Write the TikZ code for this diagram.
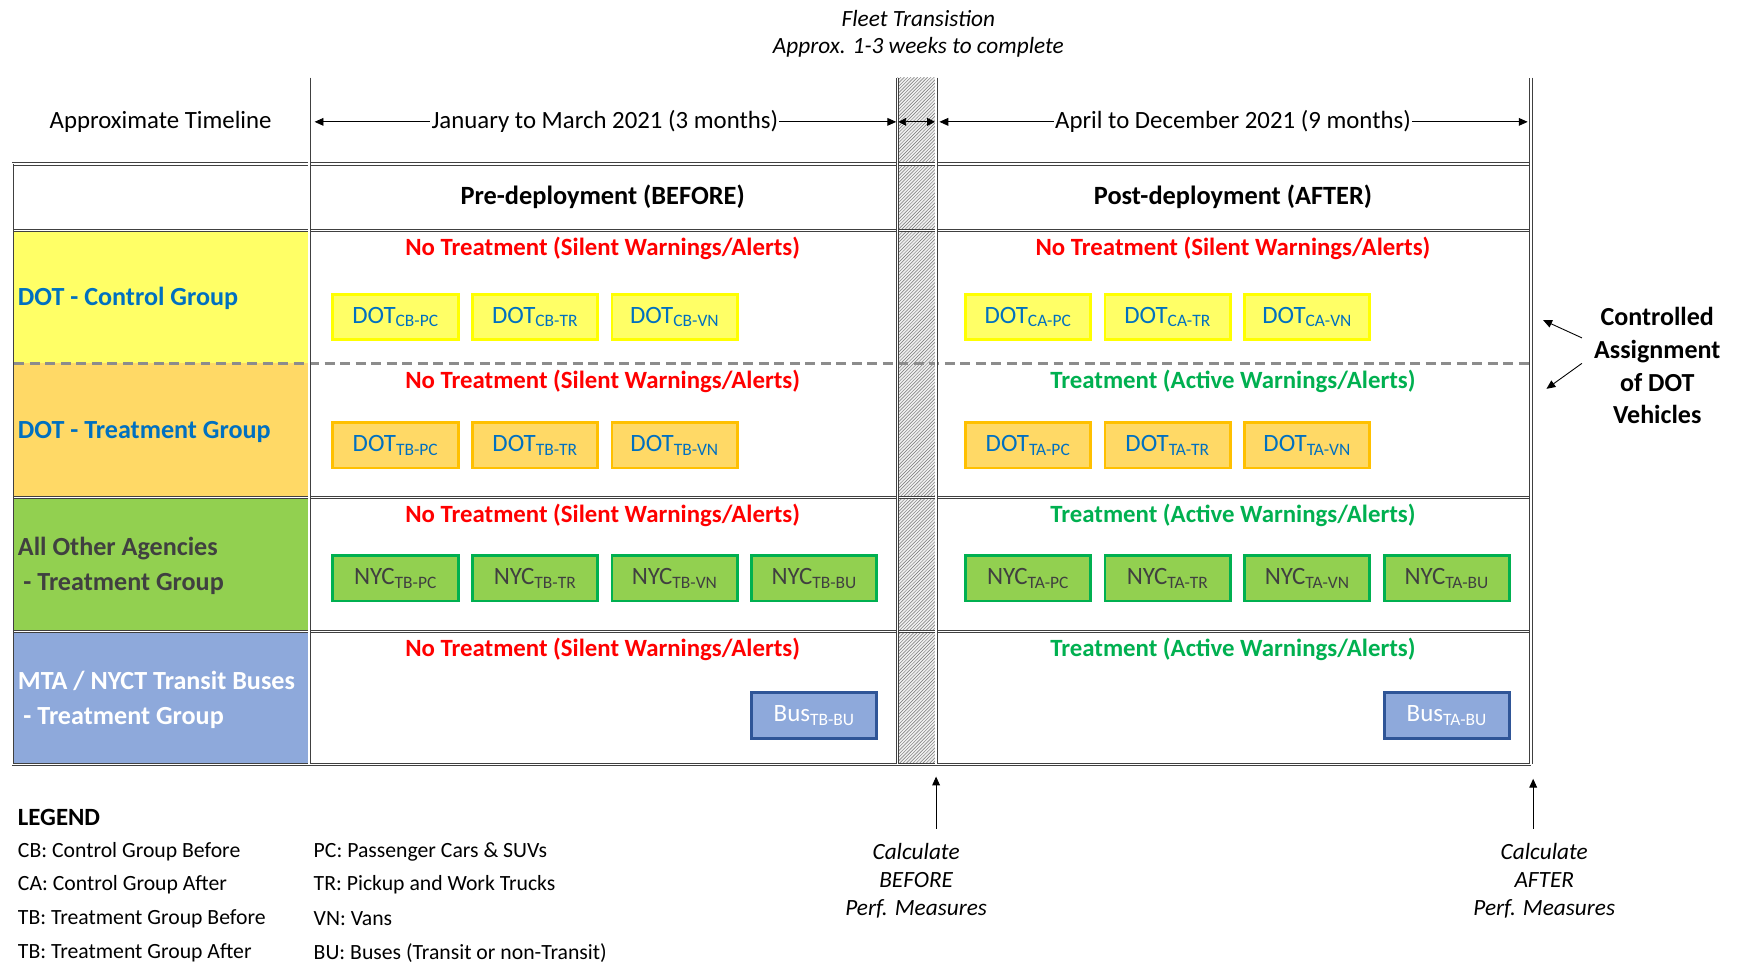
\documentclass[tikz,border=0pt]{standalone}
\usepackage{fontspec}
\setmainfont{Carlito}
\usetikzlibrary{arrows.meta,patterns}
\definecolor{dotblue}{HTML}{0070C0}
\definecolor{cyel}{HTML}{FFFF66}
\definecolor{cyelb}{HTML}{FFFF00}
\definecolor{corg}{HTML}{FFD966}
\definecolor{corgb}{HTML}{FFC000}
\definecolor{cgrn}{HTML}{92D050}
\definecolor{cgrnb}{HTML}{00B050}
\definecolor{cblu}{HTML}{8EA9DB}
\definecolor{cblub}{HTML}{2F5597}
\definecolor{tred}{HTML}{FF0000}
\definecolor{tgrn}{HTML}{00B050}
\definecolor{tgray}{HTML}{404040}
\newcommand\myfs[2]{\fontsize{#1}{#2}\selectfont}
\tikzset{
  tline/.style={draw=black!75, line width=0.7pt, double=white, double distance=1.4pt},
  vbox/.style={minimum width=113, minimum height=41, line width=2.6pt, inner sep=0pt, font=\myfs{22.5}{26}},
  ybox/.style={vbox, fill=cyel, draw=cyelb, text=dotblue},
  obox/.style={vbox, fill=corg, draw=corgb, text=dotblue},
  gbox/.style={vbox, fill=cgrn, draw=cgrnb, text=tgray},
  bbox/.style={vbox, fill=cblu, draw=cblub, text=white},
  redlbl/.style={text=tred, font=\myfs{22.4}{26}\bfseries, inner sep=0pt},
  grnlbl/.style={text=tgrn, font=\myfs{22.4}{26}\bfseries, inner sep=0pt},
  tarrow/.style={line width=0.8pt, -{Triangle[length=8pt,width=7pt]}},
  plain/.style={inner sep=0pt, font=\myfs{22.4}{26}},
  itl/.style={inner sep=0pt, font=\myfs{21}{25.5}\itshape, align=center},
  leg/.style={inner sep=0pt, anchor=west, font=\myfs{19.6}{22}},
  dashsep/.style={draw=black!45, line width=2.2pt, dash pattern=on 9pt off 5pt},
}
\begin{document}
\begin{tikzpicture}[x=1pt,y=-1pt]
\useasboundingbox (0,0) rectangle (1568,871);
\fill[white] (0,0) rectangle (1568,871);
% left column fills
\fill[cyel] (11,208) rectangle (279,328);
\fill[corg] (11,328) rectangle (279,449);
\fill[cgrn] (11,449) rectangle (279,570);
\fill[cblu] (11,570) rectangle (279,690);
% hatched transition strip
\fill[gray!12] (810,70) rectangle (845,690);
\fill[pattern=north east lines, pattern color=black!55] (810,70) rectangle (845,690);
% horizontal lines
\foreach \yy in {148,208,449,570,690} \draw[tline] (11,\yy) -- (1382,\yy);
% dashed separator
\draw[dashsep] (13,328) -- (1380,328);
% vertical lines
\draw[tline] (11,148) -- (11,690);
\foreach \xx in {279,810,845,1382} \draw[tline] (\xx,70) -- (\xx,690);

% top texts
\node[itl] (fleet) at (829,17) {Fleet Transistion};
\node[itl] (approx) at (829,43) {Approx. 1-3 weeks to complete};

% timeline
\node[plain] (tl) at (145,110) {Approximate Timeline};
\node[plain, inner sep=1pt] (jan) at (546,110) {January to March 2021 (3 months)};
\node[plain, inner sep=1pt] (apr) at (1113,110) {April to December 2021 (9 months)};
\coordinate (j1) at (284,110);
\coordinate (j2) at (809,110);
\coordinate (s1) at (811,110);
\coordinate (s2) at (844,110);
\coordinate (a1) at (848,110);
\coordinate (a2) at (1379,110);
\draw[tarrow] (jan.west) -- (j1);
\draw[tarrow] (jan.east) -- (j2);
\draw[line width=0.8pt, {Triangle[length=7pt,width=7pt]}-{Triangle[length=7pt,width=7pt]}] (s1) -- (s2);
\draw[tarrow] (apr.west) -- (a1);
\draw[tarrow] (apr.east) -- (a2);

% headers
\node[plain, font=\myfs{23.8}{26}\bfseries] (pre) at (544,178) {Pre-deployment (BEFORE)};
\node[plain, font=\myfs{23.8}{26}\bfseries] (post) at (1113,178) {Post-deployment (AFTER)};

% left labels
\node[plain, anchor=west, text=dotblue, font=\myfs{23.6}{26}\bfseries] (g1) at (16,269) {DOT - Control Group};
\node[plain, anchor=west, text=dotblue, font=\myfs{23.6}{26}\bfseries] (g2) at (16,390) {DOT - Treatment Group};
\node[plain, anchor=west, text=tgray, align=left, font=\myfs{23.6}{32}\bfseries] (g3) at (16,511) {All Other Agencies\\\hspace{5pt}- Treatment Group};
\node[plain, anchor=west, text=white, align=left, font=\myfs{23.6}{32}\bfseries] (g4) at (16,632) {MTA / NYCT Transit Buses\\\hspace{5pt}- Treatment Group};

% row labels
\node[redlbl] (r1b) at (544,224) {No Treatment (Silent Warnings/Alerts)};
\node[redlbl] (r1a) at (1113,224) {No Treatment (Silent Warnings/Alerts)};
\node[redlbl] (r2b) at (544,344) {No Treatment (Silent Warnings/Alerts)};
\node[grnlbl] (r2a) at (1113,344) {Treatment (Active Warnings/Alerts)};
\node[redlbl] (r3b) at (544,465) {No Treatment (Silent Warnings/Alerts)};
\node[grnlbl] (r3a) at (1113,465) {Treatment (Active Warnings/Alerts)};
\node[redlbl] (r4b) at (544,586) {No Treatment (Silent Warnings/Alerts)};
\node[grnlbl] (r4a) at (1113,586) {Treatment (Active Warnings/Alerts)};

% row 1 boxes
\node[ybox] (cbpc) at (357,286) {DOT\textsubscript{CB-PC}};
\node[ybox] (cbtr) at (483,286) {DOT\textsubscript{CB-TR}};
\node[ybox] (cbvn) at (609,286) {DOT\textsubscript{CB-VN}};
\node[ybox] (capc) at (928,286) {DOT\textsubscript{CA-PC}};
\node[ybox] (catr) at (1054,286) {DOT\textsubscript{CA-TR}};
\node[ybox] (cavn) at (1180,286) {DOT\textsubscript{CA-VN}};
% row 2 boxes
\node[obox] (tbpc) at (357,402) {DOT\textsubscript{TB-PC}};
\node[obox] (tbtr) at (483,402) {DOT\textsubscript{TB-TR}};
\node[obox] (tbvn) at (609,402) {DOT\textsubscript{TB-VN}};
\node[obox] (tapc) at (928,402) {DOT\textsubscript{TA-PC}};
\node[obox] (tatr) at (1054,402) {DOT\textsubscript{TA-TR}};
\node[obox] (tavn) at (1180,402) {DOT\textsubscript{TA-VN}};
% row 3 boxes
\node[gbox] (ntbpc) at (357,522) {NYC\textsubscript{TB-PC}};
\node[gbox] (ntbtr) at (483,522) {NYC\textsubscript{TB-TR}};
\node[gbox] (ntbvn) at (609,522) {NYC\textsubscript{TB-VN}};
\node[gbox] (ntbbu) at (735,522) {NYC\textsubscript{TB-BU}};
\node[gbox] (ntapc) at (928,522) {NYC\textsubscript{TA-PC}};
\node[gbox] (ntatr) at (1054,522) {NYC\textsubscript{TA-TR}};
\node[gbox] (ntavn) at (1180,522) {NYC\textsubscript{TA-VN}};
\node[gbox] (ntabu) at (1306,522) {NYC\textsubscript{TA-BU}};
% row 4 boxes
\node[bbox] (btb) at (735,646) {Bus\textsubscript{TB-BU}};
\node[bbox] (bta) at (1306,646) {Bus\textsubscript{TA-BU}};

% controlled assignment
\node[plain, align=center, font=\myfs{23.5}{29.6}\bfseries] (ctrl) at (1496,330) {Controlled\\Assignment\\of DOT\\Vehicles};
\coordinate (c1s) at (1428,305);
\coordinate (c1e) at (1393,289);
\coordinate (c2s) at (1428,328);
\coordinate (c2e) at (1396,351);
\draw[tarrow] (c1s) -- (c1e);
\draw[tarrow] (c2s) -- (c2e);

% bottom measures
\node[itl] (calcb) at (827,795) {Calculate\\BEFORE\\Perf. Measures};
\node[itl] (calca) at (1394,795) {Calculate\\AFTER\\Perf. Measures};
\coordinate (m1s) at (845,748);
\coordinate (m1e) at (845,701);
\coordinate (m2s) at (1384,748);
\coordinate (m2e) at (1384,703);
\draw[tarrow] (m1s) -- (m1e);
\draw[tarrow] (m2s) -- (m2e);

% legend
\node[plain, anchor=west, font=\myfs{22.4}{26}\bfseries] (legend) at (16,738) {LEGEND};
\node[leg] (l1) at (16,769) {CB: Control Group Before};
\node[leg] (l2) at (16,799) {CA: Control Group After};
\node[leg] (l3) at (16,829) {TB: Treatment Group Before};
\node[leg] (l4) at (16,860) {TB: Treatment Group After};
\node[leg] (l5) at (283,769) {PC: Passenger Cars \& SUVs};
\node[leg] (l6) at (283,799) {TR: Pickup and Work Trucks};
\node[leg] (l7) at (283,829) {VN: Vans};
\node[leg] (l8) at (283,860) {BU: Buses (Transit or non-Transit)};
\end{tikzpicture}
\end{document}
